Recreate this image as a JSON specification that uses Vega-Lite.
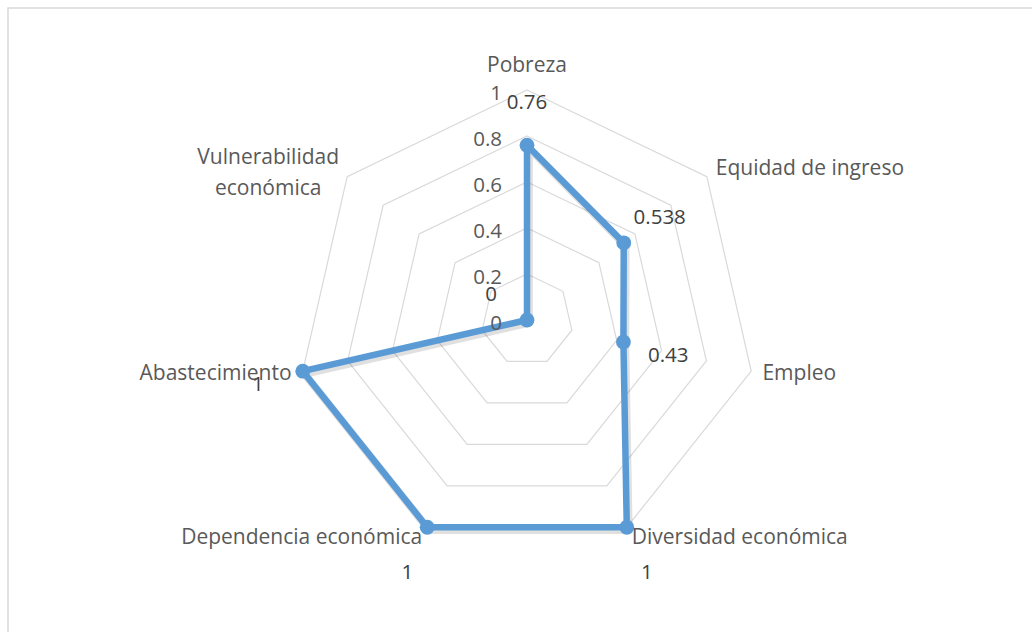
{
  "$schema": "https://vega.github.io/schema/vega-lite/v6.json",
  "width": 1024,
  "height": 624,
  "padding": {"left": 8, "top": 8, "right": 0, "bottom": 0},
  "autosize": {"type": "none"},
  "background": "white",
  "config": {
    "view": {"stroke": null},
    "text": {"font": "Open Sans"}
  },
  "datasets": {
    "scores": [
      {"cat": "Pobreza", "label": "Pobreza", "idx": 0, "value": 0.76},
      {"cat": "Equidad de ingreso", "label": "Equidad de ingreso", "idx": 1, "value": 0.538},
      {"cat": "Empleo", "label": "Empleo", "idx": 2, "value": 0.43},
      {"cat": "Diversidad económica", "label": "Diversidad económica", "idx": 3, "value": 1},
      {"cat": "Dependencia económica", "label": "Dependencia económica", "idx": 4, "value": 1},
      {"cat": "Abastecimiento", "label": "Abastecimiento", "idx": 5, "value": 1},
      {"cat": "Vulnerabilidad económica", "label": "Vulnerabilidad\neconómica", "idx": 6, "value": 0}
    ],
    "grid": [
      {"level": 0.2, "idx": 0}, {"level": 0.2, "idx": 1}, {"level": 0.2, "idx": 2}, {"level": 0.2, "idx": 3}, {"level": 0.2, "idx": 4}, {"level": 0.2, "idx": 5}, {"level": 0.2, "idx": 6},
      {"level": 0.4, "idx": 0}, {"level": 0.4, "idx": 1}, {"level": 0.4, "idx": 2}, {"level": 0.4, "idx": 3}, {"level": 0.4, "idx": 4}, {"level": 0.4, "idx": 5}, {"level": 0.4, "idx": 6},
      {"level": 0.6, "idx": 0}, {"level": 0.6, "idx": 1}, {"level": 0.6, "idx": 2}, {"level": 0.6, "idx": 3}, {"level": 0.6, "idx": 4}, {"level": 0.6, "idx": 5}, {"level": 0.6, "idx": 6},
      {"level": 0.8, "idx": 0}, {"level": 0.8, "idx": 1}, {"level": 0.8, "idx": 2}, {"level": 0.8, "idx": 3}, {"level": 0.8, "idx": 4}, {"level": 0.8, "idx": 5}, {"level": 0.8, "idx": 6},
      {"level": 1.0, "idx": 0}, {"level": 1.0, "idx": 1}, {"level": 1.0, "idx": 2}, {"level": 1.0, "idx": 3}, {"level": 1.0, "idx": 4}, {"level": 1.0, "idx": 5}, {"level": 1.0, "idx": 6}
    ],
    "ticks": [
      {"level": 0}, {"level": 0.2}, {"level": 0.4}, {"level": 0.6}, {"level": 0.8}, {"level": 1}
    ]
  },
  "layer": [
    {
      "data": {"values": [{"frame": 1}]},
      "mark": {"type": "rect", "fill": null, "fillOpacity": 0, "stroke": "#d9d9d9", "strokeWidth": 1.5},
      "encoding": {
        "x": {"datum": -2.25652, "type": "quantitative", "scale": {"domain": [-2.25652, 2.19565], "nice": false, "zero": false}, "axis": null},
        "x2": {"datum": 3},
        "y": {"datum": -2, "type": "quantitative", "scale": {"domain": [-1.35652, 1.35652], "nice": false, "zero": false}, "axis": null},
        "y2": {"datum": 1.35652}
      }
    },
    {
      "data": {"name": "grid"},
      "transform": [
        {"calculate": "-PI/2 + datum.idx * 2 * PI / 7", "as": "a"},
        {"calculate": "datum.level * cos(datum.a)", "as": "px"},
        {"calculate": "-datum.level * sin(datum.a)", "as": "py"}
      ],
      "mark": {"type": "line", "interpolate": "linear-closed", "stroke": "#d9d9d9", "strokeWidth": 1.2},
      "encoding": {
        "x": {"field": "px", "type": "quantitative"},
        "y": {"field": "py", "type": "quantitative"},
        "detail": {"field": "level", "type": "nominal"},
        "order": {"field": "idx", "type": "quantitative"}
      }
    },
    {
      "data": {"name": "scores"},
      "transform": [
        {"calculate": "-PI/2 + datum.idx * 2 * PI / 7", "as": "a"},
        {"calculate": "datum.value * cos(datum.a) + 0.008", "as": "px"},
        {"calculate": "-datum.value * sin(datum.a) - 0.012", "as": "py"}
      ],
      "mark": {"type": "line", "interpolate": "linear-closed", "stroke": "#000000", "strokeOpacity": 0.12, "strokeWidth": 8, "strokeJoin": "round"},
      "encoding": {
        "x": {"field": "px", "type": "quantitative"},
        "y": {"field": "py", "type": "quantitative"},
        "order": {"field": "idx", "type": "quantitative"}
      }
    },
    {
      "data": {"name": "scores"},
      "transform": [
        {"calculate": "-PI/2 + datum.idx * 2 * PI / 7", "as": "a"},
        {"calculate": "datum.value * cos(datum.a)", "as": "px"},
        {"calculate": "-datum.value * sin(datum.a)", "as": "py"}
      ],
      "mark": {"type": "line", "interpolate": "linear-closed", "stroke": "#5B9BD5", "strokeWidth": 6.5, "strokeJoin": "round"},
      "encoding": {
        "x": {"field": "px", "type": "quantitative"},
        "y": {"field": "py", "type": "quantitative"},
        "order": {"field": "idx", "type": "quantitative"}
      }
    },
    {
      "data": {"name": "scores"},
      "transform": [
        {"calculate": "-PI/2 + datum.idx * 2 * PI / 7", "as": "a"},
        {"calculate": "datum.value * cos(datum.a)", "as": "px"},
        {"calculate": "-datum.value * sin(datum.a)", "as": "py"}
      ],
      "mark": {"type": "point", "filled": true, "shape": "circle", "size": 220, "color": "#5B9BD5", "opacity": 1},
      "encoding": {
        "x": {"field": "px", "type": "quantitative"},
        "y": {"field": "py", "type": "quantitative"}
      }
    },
    {
      "data": {"name": "scores"},
      "transform": [
        {"calculate": "-PI/2 + datum.idx * 2 * PI / 7", "as": "a"},
        {"calculate": "(datum.value + 0.2) * cos(datum.a)", "as": "px"},
        {"calculate": "-(datum.value + 0.2) * sin(datum.a)", "as": "py"}
      ],
      "mark": {"type": "text", "align": "center", "baseline": "middle", "dy": 4, "fontSize": 20.5, "color": "#404040"},
      "encoding": {
        "x": {"field": "px", "type": "quantitative"},
        "y": {"field": "py", "type": "quantitative"},
        "text": {"field": "value", "type": "quantitative"}
      }
    },
    {
      "data": {"name": "ticks"},
      "transform": [
        {"calculate": "0", "as": "px"},
        {"calculate": "datum.level", "as": "py"}
      ],
      "mark": {"type": "text", "align": "right", "baseline": "middle", "dx": -25, "dy": 4, "fontSize": 20.5, "color": "#595959"},
      "encoding": {
        "x": {"field": "px", "type": "quantitative"},
        "y": {"field": "py", "type": "quantitative"},
        "text": {"field": "level", "type": "quantitative"}
      }
    },
    {
      "data": {"name": "scores"},
      "transform": [
        {"calculate": "-PI/2 + datum.idx * 2 * PI / 7", "as": "a"},
        {"filter": "cos(datum.a) > 0.1"},
        {"calculate": "1.05 * cos(datum.a)", "as": "px"},
        {"calculate": "-1.05 * sin(datum.a)", "as": "py"}
      ],
      "mark": {"type": "text", "align": "left", "baseline": "middle", "fontSize": 21, "color": "#595959"},
      "encoding": {
        "x": {"field": "px", "type": "quantitative"},
        "y": {"field": "py", "type": "quantitative"},
        "text": {"field": "label", "type": "nominal"}
      }
    },
    {
      "data": {"name": "scores"},
      "transform": [
        {"calculate": "-PI/2 + datum.idx * 2 * PI / 7", "as": "a"},
        {"filter": "cos(datum.a) < -0.1 && datum.idx != 6"},
        {"calculate": "1.05 * cos(datum.a)", "as": "px"},
        {"calculate": "-1.05 * sin(datum.a)", "as": "py"}
      ],
      "mark": {"type": "text", "align": "right", "baseline": "middle", "fontSize": 21, "color": "#595959"},
      "encoding": {
        "x": {"field": "px", "type": "quantitative"},
        "y": {"field": "py", "type": "quantitative"},
        "text": {"field": "label", "type": "nominal"}
      }
    },
    {
      "data": {"name": "scores"},
      "transform": [
        {"calculate": "-PI/2 + datum.idx * 2 * PI / 7", "as": "a"},
        {"filter": "datum.idx == 6"},
        {"calculate": "1.05 * cos(datum.a)", "as": "px"},
        {"calculate": "-1.05 * sin(datum.a)", "as": "py"}
      ],
      "mark": {"type": "text", "align": "center", "baseline": "middle", "dx": -70, "dy": -11, "fontSize": 21, "color": "#595959", "lineBreak": "\n", "lineHeight": 31},
      "encoding": {
        "x": {"field": "px", "type": "quantitative"},
        "y": {"field": "py", "type": "quantitative"},
        "text": {"field": "label", "type": "nominal"}
      }
    },
    {
      "data": {"name": "scores"},
      "transform": [
        {"calculate": "-PI/2 + datum.idx * 2 * PI / 7", "as": "a"},
        {"filter": "abs(cos(datum.a)) <= 0.1"},
        {"calculate": "1.05 * cos(datum.a)", "as": "px"},
        {"calculate": "-1.05 * sin(datum.a)", "as": "py"}
      ],
      "mark": {"type": "text", "align": "center", "baseline": "bottom", "dy": -2, "fontSize": 21, "color": "#595959"},
      "encoding": {
        "x": {"field": "px", "type": "quantitative"},
        "y": {"field": "py", "type": "quantitative"},
        "text": {"field": "label", "type": "nominal"}
      }
    }
  ]
}
